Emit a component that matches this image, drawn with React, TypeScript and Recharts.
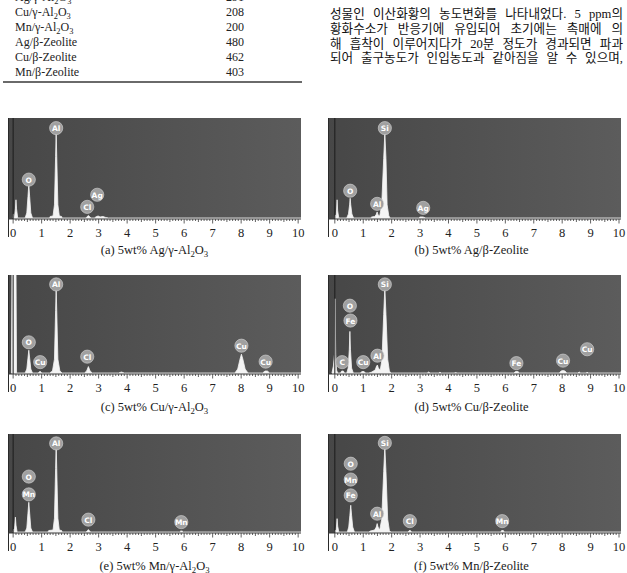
import React from 'react';
import { ComposedChart, Area, Scatter, XAxis, YAxis, ReferenceLine } from 'recharts';

// ---------- Table (top-left) ----------
const tableCatalysts = ['Ag/γ-Al2O3', 'Cu/γ-Al2O3', 'Mn/γ-Al2O3', 'Ag/β-Zeolite', 'Cu/β-Zeolite', 'Mn/β-Zeolite'];
const tableValues = [291, 208, 200, 480, 462, 403];

// ---------- Body text (top-right) ----------
const koreanLines = [
  '성물인 이산화황의 농도변화를 나타내었다. 5 ppm의',
  '황화수소가 반응기에 유입되어 초기에는 촉매에 의',
  '해 흡착이 이루어지다가 20분 정도가 경과되면 파과',
  '되어 출구농도가 인입농도과 같아짐을 알 수 있으며,',
];

// ---------- Axis ----------
const energyMajorTicks = [0, 1, 2, 3, 4, 5, 6, 7, 8, 9, 10];
const minorSteps = [1, 2, 3, 4, 5, 6, 7, 8, 9];

// ---------- Spectra: [energy keV, relative counts %] ----------
const spectrumA: [number, number][] = [
  [0.0, 1], [0.01, 5], [0.03, 1], [0.05, 2], [0.08, 10], [0.1, 19], [0.12, 10], [0.16, 1],
  [0.42, 1], [0.48, 6], [0.52, 22], [0.55, 34], [0.58, 22], [0.62, 6], [0.68, 1],
  [1.28, 1], [1.3, 2.5], [1.4, 3], [1.45, 14], [1.49, 62], [1.51, 85], [1.53, 62], [1.57, 14], [1.62, 3], [1.7, 2.5], [1.72, 1],
  [2.55, 1], [2.6, 2.5], [2.64, 3.5], [2.68, 2.5], [2.73, 1],
  [2.85, 1], [2.9, 2], [2.98, 3], [3.05, 2], [3.15, 2.5], [3.25, 1.5], [3.35, 1],
  [10.1, 1],
];
const spectrumB: [number, number][] = [
  [0.0, 1], [0.02, 4], [0.04, 1], [0.06, 8], [0.08, 19], [0.1, 8], [0.14, 1],
  [0.42, 1], [0.48, 5], [0.52, 14], [0.54, 20.5], [0.56, 14], [0.6, 5], [0.66, 1],
  [1.25, 1], [1.3, 2], [1.4, 2.5], [1.45, 4], [1.49, 7], [1.52, 4], [1.58, 3], [1.65, 14], [1.72, 60], [1.76, 85], [1.8, 60], [1.84, 14], [1.9, 3], [1.95, 1],
  [2.95, 1], [3.0, 2], [3.1, 2], [3.2, 1],
  [10.1, 1],
];
const spectrumC: [number, number][] = [
  [-0.06, 1], [-0.04, 110], [0.1, 110], [0.12, 1],
  [0.42, 1], [0.48, 5], [0.52, 16], [0.55, 24], [0.58, 16], [0.62, 5], [0.68, 1],
  [0.88, 1], [0.93, 2.5], [0.96, 2.5], [1.0, 1],
  [1.28, 1], [1.38, 3], [1.45, 15], [1.49, 64], [1.51, 86], [1.53, 64], [1.57, 15], [1.64, 3], [1.72, 1],
  [2.5, 1], [2.58, 3], [2.62, 6], [2.64, 7.5], [2.66, 6], [2.7, 3], [2.78, 1],
  [3.7, 1], [3.8, 2], [3.9, 1],
  [7.78, 1], [7.88, 5], [7.96, 15], [8.01, 20], [8.06, 15], [8.14, 5], [8.24, 1],
  [8.75, 1], [8.84, 3], [8.92, 3], [9.0, 1],
  [10.1, 1],
];
const spectrumD: [number, number][] = [
  [-0.1, 1], [-0.05, 8], [-0.01, 20], [0.01, 76], [0.03, 20], [0.06, 4], [0.1, 1],
  [0.2, 1], [0.24, 3], [0.3, 3], [0.34, 1],
  [0.42, 1], [0.47, 6], [0.51, 25], [0.53, 43], [0.55, 25], [0.59, 6], [0.65, 1],
  [0.9, 1], [0.95, 2.5], [1.03, 2.5], [1.08, 1],
  [1.2, 1], [1.3, 2], [1.42, 4], [1.47, 8], [1.5, 9], [1.53, 6], [1.6, 4], [1.66, 15], [1.72, 60], [1.76, 87], [1.8, 60], [1.86, 15], [1.92, 3], [1.97, 1],
  [3.25, 1], [3.3, 2], [3.35, 1], [3.65, 1], [3.7, 1.8], [3.75, 1], [4.2, 1], [4.25, 1.5], [4.3, 1],
  [6.3, 1], [6.36, 2.5], [6.44, 2.5], [6.5, 1],
  [7.9, 1], [7.96, 3], [8.03, 3.5], [8.1, 3], [8.16, 1],
  [8.55, 1], [8.6, 2], [8.65, 1], [8.85, 1], [8.88, 2], [8.91, 1],
  [10.1, 1],
];
const spectrumE: [number, number][] = [
  [0.0, 1], [0.02, 4], [0.04, 1], [0.06, 8], [0.08, 16], [0.1, 8], [0.14, 1],
  [0.42, 1], [0.48, 5], [0.52, 20], [0.55, 31], [0.58, 20], [0.62, 5], [0.68, 1],
  [1.22, 1], [1.25, 2.5], [1.4, 3], [1.45, 15], [1.49, 65], [1.51, 89], [1.53, 65], [1.57, 15], [1.62, 3], [1.7, 2.5], [1.72, 1],
  [2.56, 1], [2.61, 2.5], [2.64, 3.5], [2.67, 2.5], [2.72, 1],
  [5.84, 1], [5.88, 2], [5.93, 2], [5.97, 1],
  [10.1, 1],
];
const spectrumF: [number, number][] = [
  [0.0, 1], [0.02, 3], [0.04, 1], [0.06, 7], [0.08, 14.5], [0.1, 7], [0.14, 1],
  [0.44, 1], [0.49, 6], [0.53, 18], [0.56, 28], [0.59, 18], [0.63, 6], [0.69, 1],
  [1.2, 1], [1.25, 2], [1.4, 3], [1.46, 6], [1.49, 9.5], [1.52, 6], [1.58, 3], [1.65, 14], [1.72, 62], [1.76, 87], [1.8, 62], [1.86, 14], [1.92, 2.5], [1.97, 1],
  [2.58, 1], [2.62, 2.5], [2.66, 2.5], [2.7, 1],
  [5.84, 1], [5.87, 2.5], [5.93, 2.5], [5.96, 1],
  [10.1, 1],
];

// ---------- Peak labels: element, energy, height % ----------
const labelsA = [
  { el: 'Al', e: 1.51, y: 90 }, { el: 'O', e: 0.55, y: 39 }, { el: 'Cl', e: 2.6, y: 12 }, { el: 'Ag', e: 2.95, y: 24 },
];
const labelsB = [
  { el: 'Si', e: 1.76, y: 90 }, { el: 'O', e: 0.54, y: 28 }, { el: 'Al', e: 1.49, y: 15 }, { el: 'Ag', e: 3.11, y: 11 },
];
const labelsC = [
  { el: 'Al', e: 1.51, y: 90.5 }, { el: 'O', e: 0.55, y: 32 }, { el: 'Cu', e: 0.95, y: 12 },
  { el: 'Cl', e: 2.6, y: 17.5 }, { el: 'Cu', e: 8.01, y: 28.6 }, { el: 'Cu', e: 8.86, y: 12.5 },
];
const labelsD = [
  { el: 'Si', e: 1.76, y: 90.5 }, { el: 'O', e: 0.53, y: 69 }, { el: 'Fe', e: 0.55, y: 54 }, { el: 'C', e: 0.26, y: 12 },
  { el: 'Cu', e: 1.0, y: 12 }, { el: 'Al', e: 1.5, y: 18.5 }, { el: 'Fe', e: 6.39, y: 11 },
  { el: 'Cu', e: 8.03, y: 13.5 }, { el: 'Cu', e: 8.88, y: 25 },
];
const labelsE = [
  { el: 'Al', e: 1.51, y: 90.5 }, { el: 'O', e: 0.55, y: 57 }, { el: 'Mn', e: 0.55, y: 39 },
  { el: 'Cl', e: 2.64, y: 13.5 }, { el: 'Mn', e: 5.9, y: 11 },
];
const labelsF = [
  { el: 'Si', e: 1.76, y: 91 }, { el: 'O', e: 0.56, y: 70 }, { el: 'Mn', e: 0.56, y: 54 }, { el: 'Fe', e: 0.56, y: 38 },
  { el: 'Al', e: 1.49, y: 19.5 }, { el: 'Cl', e: 2.64, y: 12 }, { el: 'Mn', e: 5.89, y: 12 },
];

const captions = [
  '(a) 5wt% Ag/γ-Al2O3',
  '(b) 5wt% Ag/β-Zeolite',
  '(c) 5wt% Cu/γ-Al2O3',
  '(d) 5wt% Cu/β-Zeolite',
  '(e) 5wt% Mn/γ-Al2O3',
  '(f) 5wt% Mn/β-Zeolite',
];

const spectra = [spectrumA, spectrumB, spectrumC, spectrumD, spectrumE, spectrumF];
const peakLabels = [labelsA, labelsB, labelsC, labelsD, labelsE, labelsF];

// ---------- Layout (positions only) ----------
const PLOT_W = 293;
const AXIS_H = 34;
const PAD_R = 14;
const panelLayout = [
  { left: 8, top: 118, h: 101, domain: [-0.18, 10.1] },
  { left: 328, top: 118, h: 101, domain: [-0.24, 10.07] },
  { left: 8, top: 275, h: 99, domain: [-0.18, 10.1] },
  { left: 328, top: 275, h: 99, domain: [-0.24, 10.07] },
  { left: 8, top: 434, h: 99, domain: [-0.18, 10.1] },
  { left: 328, top: 434, h: 99, domain: [-0.24, 10.07] },
];

const rulerTicks: number[] = energyMajorTicks.flatMap((m) =>
  m === 10 ? [m] : [m, ...minorSteps.map((s) => Math.round((m + s / 10) * 10) / 10)]
);

const SERIF = "'Liberation Serif', 'Times New Roman', serif";

function chem(text: string) {
  const parts: React.ReactNode[] = [];
  for (let i = 0; i < text.length; i++) {
    const ch = text[i];
    if (/\d/.test(ch) && i > 0 && /[A-Za-z]/.test(text[i - 1])) {
      parts.push(
        <span key={i} style={{ fontSize: '0.7em', position: 'relative', top: '0.3em', lineHeight: 0 }}>{ch}</span>
      );
    } else {
      parts.push(ch);
    }
  }
  return parts;
}

const RulerTick = (props: any) => {
  const { x, y, payload } = props;
  const v = payload.value as number;
  const major = Math.abs(v - Math.round(v)) < 1e-6;
  const half = Math.abs(v - Math.floor(v) - 0.5) < 1e-6;
  const len = major ? 4.5 : half ? 3 : 2;
  return (
    <g>
      <line x1={x} x2={x} y1={y} y2={y + len} stroke="#3a3a3a" strokeWidth={0.8} />
      {major && (
        <text x={x} y={y + 14} textAnchor="middle" dominantBaseline="central" fontFamily={SERIF} fontSize={12.5} fill="#222">
          {Math.round(v)}
        </text>
      )}
    </g>
  );
};

const LabelBubble = (props: any) => {
  const { cx, cy, payload } = props;
  if (cx == null || cy == null) return <g />;
  return (
    <g>
      <circle cx={cx} cy={cy} r={6.6} fill="#a0a0a0" stroke="#d6d6d6" strokeWidth={0.6} />
      <text x={cx} y={cy + 0.5} textAnchor="middle" dominantBaseline="central" fontSize={7.5} fontWeight="bold"
        fontFamily="'DejaVu Sans', sans-serif" fill="#ffffff">
        {payload.el}
      </text>
    </g>
  );
};

function Panel({ idx }: { idx: number }) {
  const lay = panelLayout[idx];
  const data = spectra[idx].map(([e, v]) => ({ e, v }));
  const labels = peakLabels[idx];
  return (
    <div style={{ position: 'absolute', left: lay.left, top: lay.top, width: PLOT_W, height: lay.h + AXIS_H }}>
      <div style={{
        position: 'absolute', left: 0, top: 0, width: PLOT_W, height: lay.h,
        background: 'linear-gradient(to right, #474747, #5c5c5c)',
      }} />
      <div style={{ position: 'absolute', left: 0, top: 0, width: 1, height: lay.h + 18, background: '#2a2a2a' }} />
      <div style={{ position: 'absolute', left: 0, top: 0 }}>
        <ComposedChart width={PLOT_W + PAD_R} height={lay.h + AXIS_H} data={data} margin={{ top: 0, right: PAD_R, bottom: 0, left: 0 }}>
          <XAxis dataKey="e" type="number" domain={lay.domain} allowDataOverflow ticks={rulerTicks} interval={0}
            tickSize={0} tickMargin={0} tickLine={false} tick={(p: any) => <RulerTick {...p} />}
            axisLine={{ stroke: '#3a3a3a', strokeWidth: 1 }} height={AXIS_H} />
          <YAxis hide type="number" domain={[0, 100]} allowDataOverflow />
          <ReferenceLine x={0} stroke="#1c1c1c" strokeWidth={1} ifOverflow="visible" />
          <Area type="linear" dataKey="v" stroke="#f4f4f4" strokeWidth={0.8} fill="#f4f4f4" fillOpacity={1}
            isAnimationActive={false} dot={false} activeDot={false} />
          <Scatter data={labels} dataKey="y" isAnimationActive={false} shape={(p: any) => <LabelBubble {...p} />} />
        </ComposedChart>
      </div>
      <div style={{
        position: 'absolute', left: -40, width: PLOT_W + 80 + (idx % 2 === 1 ? -6 : 0), top: 132 - 9, height: 18,
        lineHeight: '18px', textAlign: 'center', fontFamily: SERIF, fontSize: 12.5, color: '#1a1a1a', whiteSpace: 'nowrap',
      }}>
        {chem(captions[idx])}
      </div>
    </div>
  );
}

export default function App() {
  return (
    <div style={{ position: 'absolute', left: 0, top: 0, width: 627, height: 573, background: '#ffffff', overflow: 'hidden' }}>
      {/* table */}
      {tableCatalysts.map((c, i) => {
        const cy = -3 + i * 15;
        return (
          <React.Fragment key={c}>
            <div style={{ position: 'absolute', left: 15, top: cy - 8, height: 16, lineHeight: '16px', fontFamily: SERIF, fontSize: 12, color: '#222', whiteSpace: 'nowrap' }}>
              {chem(c)}
            </div>
            <div style={{ position: 'absolute', left: 205, width: 60, textAlign: 'center', top: cy - 8, height: 16, lineHeight: '16px', fontFamily: SERIF, fontSize: 12, color: '#222' }}>
              {tableValues[i]}
            </div>
          </React.Fragment>
        );
      })}
      <div style={{ position: 'absolute', left: 3, top: 81, width: 299, height: 1.5, background: '#6a6a6a' }} />
      {/* korean text */}
      {koreanLines.map((t, i) => (
        <div key={i} style={{
          position: 'absolute', left: 330, top: 14.3 + i * 14.7 - 8, width: 293, height: 16, lineHeight: '16px',
          fontFamily: "'Liberation Serif', 'Noto Sans CJK KR', serif", fontSize: 12.6, color: '#111',
          textAlign: 'justify', textAlignLast: 'justify' as any, whiteSpace: 'nowrap',
        }}>
          {t}
        </div>
      ))}
      {panelLayout.map((_, i) => <Panel key={i} idx={i} />)}
    </div>
  );
}
